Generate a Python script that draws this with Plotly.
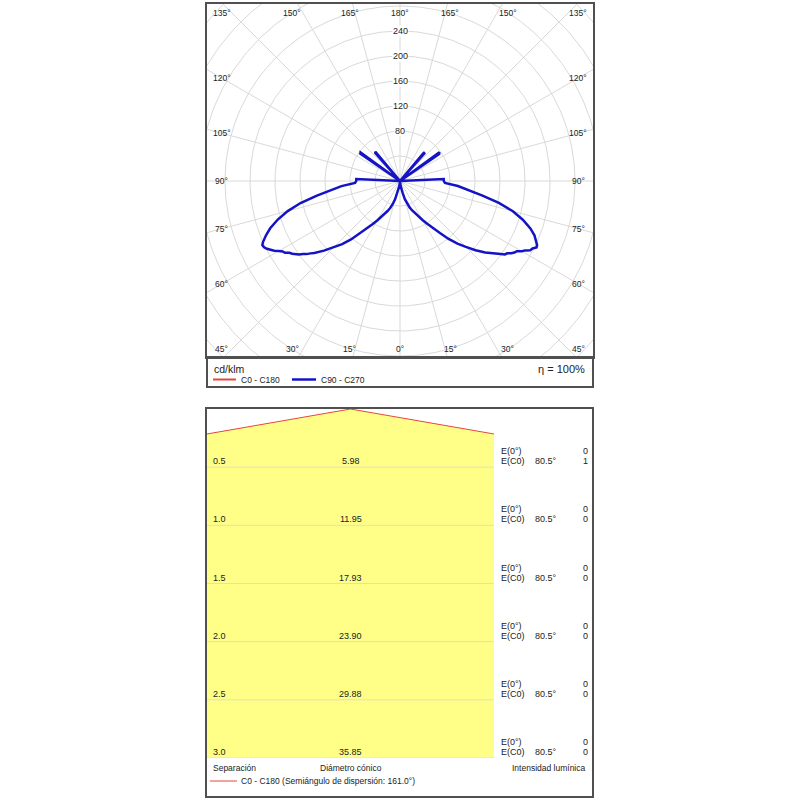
import numpy as np
import plotly.graph_objects as go

# ---------------- data ----------------
# photometric curve, cd/klm, gamma angle measured from nadir (0 deg) to zenith (180 deg)
gamma_deg = [0, 2.5, 5, 7.5, 10, 12.5, 15, 17.5, 20, 22.5,
             25, 27.5, 30, 32.5, 35, 37.5, 40, 42.5, 45, 47.5,
             50, 51, 52, 53, 54, 55, 56, 57, 58, 59,
             60, 61, 62, 63, 64, 65, 66, 67, 68, 70,
             72.5, 75, 77.5, 80, 82.5, 85, 87.5, 90, 92.5, 95,
             122.5, 124.5, 126, 128, 137, 138.5, 140, 142, 180]
i_c90 = [0, 1, 4, 8, 13, 20, 30, 39, 45, 51,
         57, 64, 72, 81, 92, 105, 121, 136, 149, 164,
         178, 183, 189, 195, 199, 205, 207, 212, 216, 218,
         225, 229, 236, 238, 243, 242, 239, 235, 232, 222,
         206, 187, 162, 134, 112, 93, 72, 70, 70, 0,
         0, 76, 78, 0, 0, 60, 59, 0, 0]
i_c270 = [0, 1, 4, 8, 13, 20, 30, 39, 46, 52,
          58, 65, 73, 82, 93, 106, 122, 137, 150, 165,
          179, 184, 190, 194, 200, 204, 208, 211, 217, 219,
          224, 230, 235, 239, 242, 243, 240, 236, 231, 221,
          205, 186, 163, 135, 113, 94, 72, 70, 70, 0,
          0, 77, 78, 0, 0, 61, 60, 0, 0]
ring_values = [40, 80, 120, 160, 200, 240, 280, 320, 360, 400, 440, 480]
ring_labels = [80, 120, 160, 200, 240]
angle_ticks = [0, 15, 30, 45, 60, 75, 90, 105, 120, 135, 150, 165, 180]

# cone diagram
separation_m = [0.5, 1.0, 1.5, 2.0, 2.5, 3.0]
cone_diameter_m = ["5.98", "11.95", "17.93", "23.90", "29.88", "35.85"]
e_nadir = [0, 0, 0, 0, 0, 0]
e_c0 = [1, 0, 0, 0, 0, 0]
half_angle_deg = 80.5

# ---------------- layout helpers ----------------
W = H = 800
def pxx(x):
    return x / W
def pxy(y):
    return 1 - y / H

FONT = "Liberation Sans, Arial, sans-serif"
TXT = "#222222"
FRAME = "#505050"
GRID = "#d9d9d9"
BLUE = "#1414c4"
RED = "#e8453c"
YELLOW = "#ffff88"

PXU = 0.625          # pixels per cd/klm
CX, CY = 400, 181    # pole position
P_L, P_R, P_T, P_B = 207, 593, 4, 357

fig = go.Figure()

# grid rings
th = np.linspace(0, 2 * np.pi, 361)
gx, gy = [], []
for r in ring_values:
    gx += list(r * np.cos(th)) + [None]
    gy += list(r * np.sin(th)) + [None]
# radial spokes every 15 deg
for a in range(0, 360, 15):
    t = np.radians(a)
    gx += [0, 500 * np.sin(t), None]
    gy += [0, -500 * np.cos(t), None]
fig.add_trace(go.Scatter(x=gx, y=gy, mode="lines", line=dict(color=GRID, width=1),
                         hoverinfo="skip", showlegend=False, xaxis="x", yaxis="y"))

# photometric curve C90 - C270
g = np.radians(gamma_deg)
a90 = np.array(i_c90, dtype=float)
a270 = np.array(i_c270, dtype=float)
xs = np.concatenate([(-a270 * np.sin(g))[::-1], a90 * np.sin(g)])
ys = np.concatenate([(-a270 * np.cos(g))[::-1], -a90 * np.cos(g)])
fig.add_trace(go.Scatter(x=xs, y=ys, mode="lines", line=dict(color=BLUE, width=2.5),
                         name="C90 - C270", showlegend=False, xaxis="x", yaxis="y"))

annotations = []
# ring labels
for r in ring_labels:
    annotations.append(dict(x=0, y=r, xref="x", yref="y", text=str(r), showarrow=False,
                            font=dict(size=9, color=TXT, family=FONT),
                            bgcolor="white", borderpad=0, xanchor="center", yanchor="middle"))
# angle labels around the frame
for phi in angle_ticks:
    psi = phi if phi <= 90 else 180 - phi
    s, c = np.sin(np.radians(psi)), np.cos(np.radians(psi))
    dx = 178 if c < 1e-9 else min(187 * s / c, 178)
    dy = 168 if s < 1e-9 else min(178 * c / s, 168)
    ydat = (-dy if phi <= 90 else dy) / PXU
    sides = [1] if dx == 0 else [-1, 1]
    for sd in sides:
        annotations.append(dict(x=sd * dx / PXU, y=ydat, xref="x", yref="y", text=f"{phi}°",
                                showarrow=False, font=dict(size=8.5, color=TXT, family=FONT),
                                xanchor="center", yanchor="middle"))

# polar legend
annotations += [
    dict(x=pxx(212), y=pxy(369), xref="paper", yref="paper", text="cd/klm", showarrow=False,
         xanchor="left", yanchor="middle", font=dict(size=10.5, color=TXT, family=FONT)),
    dict(x=pxx(587), y=pxy(369), xref="paper", yref="paper", text="η = 100%", showarrow=False,
         xanchor="right", yanchor="middle", font=dict(size=11, color=TXT, family=FONT)),
    dict(x=pxx(239), y=pxy(379.5), xref="paper", yref="paper", text="C0 - C180", showarrow=False,
         xanchor="left", yanchor="middle", font=dict(size=8.5, color=TXT, family=FONT)),
    dict(x=pxx(319), y=pxy(379.5), xref="paper", yref="paper", text="C90 - C270", showarrow=False,
         xanchor="left", yanchor="middle", font=dict(size=8.5, color=TXT, family=FONT)),
]

# ---------------- cone diagram ----------------
tn = np.tan(np.radians(half_angle_deg))
L = 3.0
fig.add_trace(go.Scatter(x=[-L, 0, L, L, -L, -L], y=[-L / tn, 0, -L / tn, -3.5, -3.5, -L / tn],
                         mode="lines", fill="toself", fillcolor=YELLOW, line=dict(width=0),
                         hoverinfo="skip", showlegend=False, xaxis="x2", yaxis="y2"))
rx, ry = [], []
for h in separation_m:
    rx += [-L, L, None]
    ry += [-h, -h, None]
fig.add_trace(go.Scatter(x=rx, y=ry, mode="lines", line=dict(color="#e2dfbf", width=1),
                         hoverinfo="skip", showlegend=False, xaxis="x2", yaxis="y2"))
fig.add_trace(go.Scatter(x=[-L, 0, L], y=[-L / tn, 0, -L / tn], mode="lines",
                         line=dict(color=RED, width=1), showlegend=False, xaxis="x2", yaxis="y2"))

F9 = dict(size=9, color=TXT, family=FONT)
for h, d, e0, ec in zip(separation_m, cone_diameter_m, e_nadir, e_c0):
    annotations += [
        dict(x=pxx(211), y=-h, xref="paper", yref="y2", text=f"{h:.1f}", showarrow=False,
             xanchor="left", yanchor="bottom", yshift=-1, font=F9),
        dict(x=0, y=-h, xref="x2", yref="y2", text=d, showarrow=False,
             xanchor="center", yanchor="bottom", yshift=-1, font=F9),
        dict(x=pxx(499), y=-h, xref="paper", yref="y2", text="E(0°)", showarrow=False,
             xanchor="left", yanchor="bottom", yshift=9, font=F9),
        dict(x=pxx(590), y=-h, xref="paper", yref="y2", text=str(e0), showarrow=False,
             xanchor="right", yanchor="bottom", yshift=9, font=F9),
        dict(x=pxx(499), y=-h, xref="paper", yref="y2", text="E(C0)", showarrow=False,
             xanchor="left", yanchor="bottom", yshift=-1, font=F9),
        dict(x=pxx(533), y=-h, xref="paper", yref="y2", text=f"{half_angle_deg}°", showarrow=False,
             xanchor="left", yanchor="bottom", yshift=-1, font=F9),
        dict(x=pxx(590), y=-h, xref="paper", yref="y2", text=str(ec), showarrow=False,
             xanchor="right", yanchor="bottom", yshift=-1, font=F9),
    ]

F85 = dict(size=8.5, color=TXT, family=FONT)
annotations += [
    dict(x=pxx(211), y=pxy(768), xref="paper", yref="paper", text="Separación", showarrow=False,
         xanchor="left", yanchor="middle", font=F85),
    dict(x=pxx(351), y=pxy(768), xref="paper", yref="paper", text="Diámetro cónico", showarrow=False,
         xanchor="center", yanchor="middle", font=F85),
    dict(x=pxx(588), y=pxy(768), xref="paper", yref="paper", text="Intensidad lumínica", showarrow=False,
         xanchor="right", yanchor="middle", font=F85),
    dict(x=pxx(239), y=pxy(781), xref="paper", yref="paper",
         text=f"C0 - C180 (Semiángulo de dispersión: {2 * half_angle_deg:.1f}°)", showarrow=False,
         xanchor="left", yanchor="middle", font=F85),
]

shapes = [
    # polar legend box
    dict(type="rect", xref="paper", yref="paper", x0=pxx(P_L), x1=pxx(P_R), y0=pxy(387), y1=pxy(P_B),
         line=dict(color=FRAME, width=2)),
    dict(type="line", xref="paper", yref="paper", x0=pxx(213), x1=pxx(236), y0=pxy(379.5), y1=pxy(379.5),
         line=dict(color=RED, width=2)),
    dict(type="line", xref="paper", yref="paper", x0=pxx(292), x1=pxx(316), y0=pxy(379.5), y1=pxy(379.5),
         line=dict(color=BLUE, width=2.5)),
    # cone panel frame
    dict(type="rect", xref="paper", yref="paper", x0=pxx(206), x1=pxx(593), y0=pxy(797), y1=pxy(408),
         line=dict(color=FRAME, width=2)),
    dict(type="line", xref="paper", yref="paper", x0=pxx(210), x1=pxx(237), y0=pxy(781), y1=pxy(781),
         line=dict(color=RED, width=1)),
]

ax_common = dict(showgrid=False, zeroline=False, showticklabels=False, ticks="", fixedrange=True)
fig.update_layout(
    width=W, height=H, margin=dict(l=0, r=0, t=0, b=0),
    paper_bgcolor="white", plot_bgcolor="white", showlegend=False,
    xaxis=dict(domain=[pxx(P_L), pxx(P_R)], range=[(P_L - CX) / PXU, (P_R - CX) / PXU],
               showline=True, mirror=True, linecolor=FRAME, linewidth=2, **ax_common),
    yaxis=dict(domain=[pxy(P_B), pxy(P_T)], range=[-(P_B - CY) / PXU, (CY - P_T) / PXU],
               showline=True, mirror=True, linecolor=FRAME, linewidth=2, **ax_common),
    xaxis2=dict(domain=[pxx(207), pxx(494)], range=[-1.284, 1.284], anchor="y2",
                showline=False, **ax_common),
    yaxis2=dict(domain=[pxy(758), pxy(409)], range=[-3.0, 0.0], anchor="x2",
                showline=False, **ax_common),
    annotations=annotations, shapes=shapes,
)

fig.write_html("out.html")
